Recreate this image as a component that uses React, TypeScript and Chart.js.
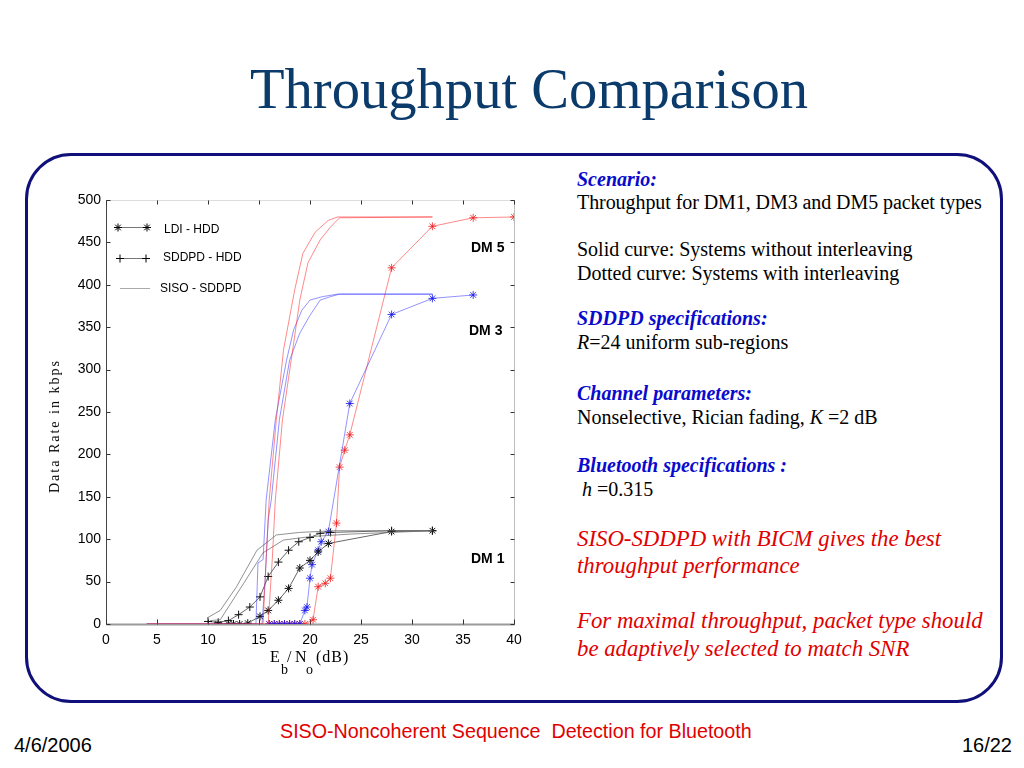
import React, { useEffect, useRef } from "react";
import { Chart, registerables } from "chart.js";

Chart.register(...registerables);

// ---------- axis ticks ----------
const xTicks = [0, 5, 10, 15, 20, 25, 30, 35, 40];
const yTicks = [0, 50, 100, 150, 200, 250, 300, 350, 400, 450, 500];

// ---------- DM5 (red) SISO-SDDPD ----------
const dm5SisoAX = [4, 15.4, 15.7, 16.0, 16.7, 17.4, 18.5, 19.3, 20.5, 21.8, 22.7, 32];
const dm5SisoAY = [0, 0, 76, 146, 241, 323, 394, 437, 462, 476, 480, 480];
const dm5SisoBX = [4, 15.9, 16.3, 16.6, 17.3, 18.3, 19.0, 19.8, 21.0, 22.0, 22.9, 32];
const dm5SisoBY = [0, 0, 76, 146, 241, 323, 382, 426, 453, 468, 479, 480];

// ---------- DM3 (blue) SISO-SDDPD ----------
const dm3SisoAX = [4, 14.7, 14.9, 15.4, 15.7, 16.6, 17.7, 18.4, 19.2, 20.0, 21.2, 22.7, 32];
const dm3SisoAY = [0, 0, 72, 76, 146, 241, 311, 347, 370, 382, 386, 389, 389];
const dm3SisoBX = [4, 15.3, 15.6, 15.9, 16.2, 17.0, 18.0, 19.0, 20.0, 21.0, 22.0, 22.9, 32];
const dm3SisoBY = [0, 0, 52, 123, 146, 241, 311, 343, 364, 382, 386, 389, 389];

// ---------- DM1 (gray) SISO-SDDPD ----------
const dm1SisoAX = [9.9, 11.2, 12.8, 14.8, 16.7, 19.0, 22.3, 32];
const dm1SisoAY = [7, 16, 44, 87, 105, 108, 110, 110];
const dm1SisoBX = [10.2, 11.2, 13.5, 15.4, 17.4, 20.0, 23.9, 32];
const dm1SisoBY = [4, 5, 48, 84, 99, 103, 106, 110];

// ---------- LDI-HDD ----------
const dm5LdiX = [16, 16.5, 17, 17.5, 18, 18.5, 19, 19.5, 20.3, 20.8, 21.5, 22.0, 22.6, 22.9, 23.4, 23.9, 28, 32, 36, 40];
const dm5LdiY = [0, 0, 0, 0, 0, 0, 0, 0, 5, 44, 48, 54, 119, 185, 205, 223, 420, 469, 479, 480];
const dm3LdiX = [16, 16.5, 17, 17.5, 18, 18.5, 19, 19.5, 19.7, 20.0, 20.2, 20.8, 21.1, 21.8, 23.9, 28, 32, 36];
const dm3LdiY = [0, 0, 0, 0, 0, 0, 0, 16, 20, 54, 70, 87, 97, 109, 260, 365, 384, 388];
const dm1LdiX = [11, 12, 12.5, 13.1, 13.9, 15.1, 15.9, 16.9, 17.9, 19.0, 20.0, 20.8, 21.8, 28, 32];
const dm1LdiY = [0, 0, 0, 0, 1, 9, 16, 28, 42, 66, 75, 85, 95, 109, 110];

// ---------- SDDPD-HDD ----------
const dm1SddpdX = [10, 11, 12, 13, 14.1, 15.1, 15.9, 16.9, 17.9, 18.9, 20, 21, 22, 28, 32];
const dm1SddpdY = [3, 2, 4, 11, 20, 32, 56, 73, 87, 97, 102, 107, 108, 110, 110];

const legendLabels = ["LDI - HDD", "SDDPD - HDD", "SISO - SDDPD"];

const SERIF = '"Liberation Serif", "Times New Roman", serif';
const SANS = '"Liberation Sans", Arial, sans-serif';

const pts = (xs: number[], ys: number[]) => xs.map((x, i) => ({ x, y: ys[i] }));

function drawStar(ctx: CanvasRenderingContext2D, x: number, y: number, r: number) {
  ctx.beginPath();
  ctx.moveTo(x - r, y); ctx.lineTo(x + r, y);
  ctx.moveTo(x, y - r); ctx.lineTo(x, y + r);
  const d = r * 0.7;
  ctx.moveTo(x - d, y - d); ctx.lineTo(x + d, y + d);
  ctx.moveTo(x - d, y + d); ctx.lineTo(x + d, y - d);
  ctx.stroke();
}
function drawPlus(ctx: CanvasRenderingContext2D, x: number, y: number, r: number) {
  ctx.beginPath();
  ctx.moveTo(x - r, y); ctx.lineTo(x + r, y);
  ctx.moveTo(x, y - r); ctx.lineTo(x, y + r);
  ctx.stroke();
}

const boxPlugin = {
  id: "matlabBox",
  beforeDatasetsDraw(chart: any) {
    const { ctx, chartArea: a, scales } = chart;
    const xs = scales.x, ys = scales.y;
    const L = Math.round(a.left) + 0.5, R = Math.round(a.right) + 0.5;
    const T = Math.round(a.top) + 0.5, B = Math.round(a.bottom) + 0.5;
    ctx.save();
    ctx.lineWidth = 1;
    ctx.strokeStyle = "#dcdcdc";
    ctx.beginPath(); ctx.moveTo(L, T); ctx.lineTo(R, T); ctx.stroke();
    ctx.strokeStyle = "#bdbdbd";
    ctx.beginPath(); ctx.moveTo(R, T); ctx.lineTo(R, B); ctx.stroke();
    ctx.strokeStyle = "#9a9a9a";
    ctx.lineWidth = 2;
    ctx.beginPath(); ctx.moveTo(L, B); ctx.lineTo(R, B); ctx.stroke();
    ctx.lineWidth = 1;
    ctx.strokeStyle = "#444";
    ctx.beginPath(); ctx.moveTo(L, T); ctx.lineTo(L, B); ctx.stroke();
    ctx.strokeStyle = "#333";
    xTicks.forEach((v) => {
      const p = Math.round(xs.getPixelForValue(v)) + 0.5;
      ctx.beginPath();
      ctx.moveTo(p, T); ctx.lineTo(p, T + 4);
      ctx.moveTo(p, B); ctx.lineTo(p, B - 5);
      ctx.stroke();
    });
    yTicks.forEach((v) => {
      const p = Math.round(ys.getPixelForValue(v)) + 0.5;
      ctx.beginPath();
      ctx.moveTo(L, p); ctx.lineTo(L + 4, p);
      ctx.moveTo(R, p); ctx.lineTo(R - 4, p);
      ctx.stroke();
    });
    ctx.restore();
  },
  afterDatasetsDraw(chart: any) {
    const { ctx, chartArea: a } = chart;
    const L = a.left, T = a.top;
    ctx.save();
    ctx.font = `12px ${SANS}`;
    ctx.fillStyle = "#000";
    ctx.textBaseline = "middle";
    // LDI - HDD
    ctx.strokeStyle = "#777";
    ctx.lineWidth = 1;
    ctx.beginPath(); ctx.moveTo(L + 10, T + 27.5); ctx.lineTo(L + 44, T + 27.5); ctx.stroke();
    ctx.strokeStyle = "#000";
    drawStar(ctx, L + 12, T + 27.5, 4);
    drawStar(ctx, L + 41, T + 27.5, 4);
    ctx.fillText(legendLabels[0], L + 58, T + 30);
    // SDDPD - HDD
    ctx.strokeStyle = "#777";
    ctx.beginPath(); ctx.moveTo(L + 10, T + 58.5); ctx.lineTo(L + 44, T + 58.5); ctx.stroke();
    ctx.strokeStyle = "#000";
    drawPlus(ctx, L + 14, T + 58.5, 4);
    drawPlus(ctx, L + 40, T + 58.5, 4);
    ctx.fillText(legendLabels[1], L + 57, T + 58);
    // SISO - SDDPD
    ctx.strokeStyle = "#aaa";
    ctx.beginPath(); ctx.moveTo(L + 14, T + 88.5); ctx.lineTo(L + 44, T + 88.5); ctx.stroke();
    ctx.fillText(legendLabels[2], L + 54, T + 89);
    ctx.restore();
  },
};

const thin = (data: any[], color: string) => ({
  data,
  showLine: true,
  borderColor: color,
  borderWidth: 1,
  pointRadius: 0,
  fill: false,
});
const marked = (data: any[], lineColor: string, markColor: string, style: string) => ({
  data,
  showLine: true,
  borderColor: lineColor,
  borderWidth: 1,
  pointStyle: style,
  pointRadius: 4,
  pointBorderColor: markColor,
  pointBackgroundColor: markColor,
  pointBorderWidth: 1,
  fill: false,
});

function ThroughputChart() {
  const ref = useRef<HTMLCanvasElement | null>(null);
  useEffect(() => {
    if (!ref.current) return;
    const RED = "rgba(255,40,40,0.55)";
    const BLUE = "rgba(40,40,255,0.5)";
    const GRAY = "rgba(110,110,110,0.75)";
    const chart = new Chart(ref.current, {
      type: "scatter",
      data: {
        datasets: [
          thin(pts(dm5SisoAX, dm5SisoAY), RED),
          thin(pts(dm5SisoBX, dm5SisoBY), RED),
          thin(pts(dm3SisoAX, dm3SisoAY), BLUE),
          thin(pts(dm3SisoBX, dm3SisoBY), BLUE),
          thin(pts(dm1SisoAX, dm1SisoAY), GRAY),
          thin(pts(dm1SisoBX, dm1SisoBY), GRAY),
          marked(pts(dm1SddpdX, dm1SddpdY), "#666", "#111", "cross"),
          marked(pts(dm1LdiX, dm1LdiY), "#666", "#111", "star"),
          marked(pts(dm3LdiX, dm3LdiY), BLUE, "rgba(20,20,235,0.8)", "star"),
          marked(pts(dm5LdiX, dm5LdiY), RED, "rgba(240,30,30,0.8)", "star"),
        ] as any,
      },
      options: {
        animation: false,
        responsive: false,
        events: [],
        layout: { padding: { top: 10, right: 16, left: 0, bottom: 0 } },
        plugins: { legend: { display: false }, tooltip: { enabled: false } },
        scales: {
          x: {
            type: "linear",
            min: 0,
            max: 40,
            afterBuildTicks: (s: any) => { s.ticks = xTicks.map((v) => ({ value: v })); },
            afterFit: (s: any) => { s.height = 46; s.paddingLeft = 0; s.paddingRight = 0; },
            grid: { display: false, drawTicks: false },
            border: { display: false },
            ticks: { color: "#000", font: { family: SANS, size: 14 }, padding: 8, maxRotation: 0, autoSkip: false },
          },
          y: {
            type: "linear",
            min: 0,
            max: 500,
            afterBuildTicks: (s: any) => { s.ticks = yTicks.map((v) => ({ value: v })); },
            afterFit: (s: any) => { s.width = 76; s.paddingTop = 0; s.paddingBottom = 0; },
            grid: { display: false, drawTicks: false },
            border: { display: false },
            ticks: { color: "#000", font: { family: SANS, size: 14 }, padding: 5, autoSkip: false },
          },
        },
      } as any,
      plugins: [boxPlugin as any],
    });
    return () => chart.destroy();
  }, []);
  return (
    <canvas
      ref={ref}
      width={500}
      height={480}
      style={{ position: "absolute", left: 30, top: 190, width: 500, height: 480 }}
    />
  );
}

const abs = (left: number, top: number, extra: React.CSSProperties = {}): React.CSSProperties => ({
  position: "absolute",
  left,
  top,
  whiteSpace: "nowrap",
  ...extra,
});

export default function App() {
  const body: React.CSSProperties = { fontFamily: SERIF, fontSize: 20, lineHeight: "24px", color: "#000" };
  const head: React.CSSProperties = { ...body, color: "#0a0acc", fontWeight: "bold", fontStyle: "italic" };
  const red: React.CSSProperties = { fontFamily: SERIF, fontSize: 22.8, lineHeight: "27px", color: "#e00000", fontStyle: "italic" };
  const dm: React.CSSProperties = { fontFamily: SANS, fontSize: 14, lineHeight: "16px", fontWeight: "bold", color: "#000" };
  const xl: React.CSSProperties = { fontFamily: SERIF, fontSize: 16, lineHeight: "16px", color: "#000" };
  const xs: React.CSSProperties = { fontFamily: SERIF, fontSize: 14, lineHeight: "14px", color: "#000" };
  return (
    <div style={{ position: "absolute", left: 0, top: 0, width: 1024, height: 768, overflow: "hidden", background: "#fff" }}>
      <div style={abs(250, 57, { fontFamily: SERIF, fontSize: 56.6, lineHeight: "64px", color: "#0b3b6b" })}>
        Throughput Comparison
      </div>
      <div
        style={{
          position: "absolute",
          left: 25,
          top: 153,
          width: 978,
          height: 550,
          boxSizing: "border-box",
          border: "3px solid #10107a",
          borderRadius: 46,
        }}
      />
      <ThroughputChart />
      <div
        style={{
          position: "absolute",
          left: 55,
          top: 426,
          transform: "translate(-50%, -50%) rotate(-90deg)",
          fontFamily: SERIF,
          fontSize: 14,
          letterSpacing: 2,
          whiteSpace: "nowrap",
          lineHeight: "16px",
        }}
      >
        Data Rate in kbps
      </div>
      <div style={abs(270, 649, xl)}>E</div>
      <div style={abs(281, 663, xs)}>b</div>
      <div style={abs(287, 649, xl)}>/</div>
      <div style={abs(295, 649, xl)}>N</div>
      <div style={abs(306, 663, xs)}>o</div>
      <div style={abs(316, 649, { ...xl, letterSpacing: 1 })}>(dB)</div>
      <div style={abs(471, 239, dm)}>DM 5</div>
      <div style={abs(469, 322, dm)}>DM 3</div>
      <div style={abs(471, 550, dm)}>DM 1</div>

      <div style={abs(577, 167, head)}>Scenario:</div>
      <div style={abs(577, 190, { ...body, letterSpacing: -0.07 })}>Throughput for DM1, DM3 and DM5 packet types</div>
      <div style={abs(577, 237, body)}>Solid curve: Systems without interleaving</div>
      <div style={abs(577, 261, body)}>Dotted curve: Systems with interleaving</div>
      <div style={abs(577, 306, head)}>SDDPD specifications:</div>
      <div style={abs(577, 330, body)}>
        <i>R</i>=24 uniform sub-regions
      </div>
      <div style={abs(577, 381, head)}>Channel parameters:</div>
      <div style={abs(577, 405, body)}>
        Nonselective, Rician fading, <i>K</i> =2 dB
      </div>
      <div style={abs(577, 453, head)}>Bluetooth specifications :</div>
      <div style={abs(582, 477, body)}>
        <i>h</i> =0.315
      </div>
      <div style={abs(577, 525, red)}>SISO-SDDPD with BICM gives the best</div>
      <div style={abs(577, 552, red)}>throughput performance</div>
      <div style={abs(577, 607, red)}>For maximal throughput, packet type should</div>
      <div style={abs(577, 635, red)}>be adaptively selected to match SNR</div>

      <div style={abs(14, 734, { fontFamily: SANS, fontSize: 20, lineHeight: "22px" })}>4/6/2006</div>
      <div style={abs(280, 720, { fontFamily: SANS, fontSize: 19.7, lineHeight: "22px", color: "#e00000" })}>
        SISO-Noncoherent Sequence&nbsp; Detection for Bluetooth
      </div>
      <div style={{ position: "absolute", right: 12, top: 734, fontFamily: SANS, fontSize: 20, lineHeight: "22px" }}>16/22</div>
    </div>
  );
}
